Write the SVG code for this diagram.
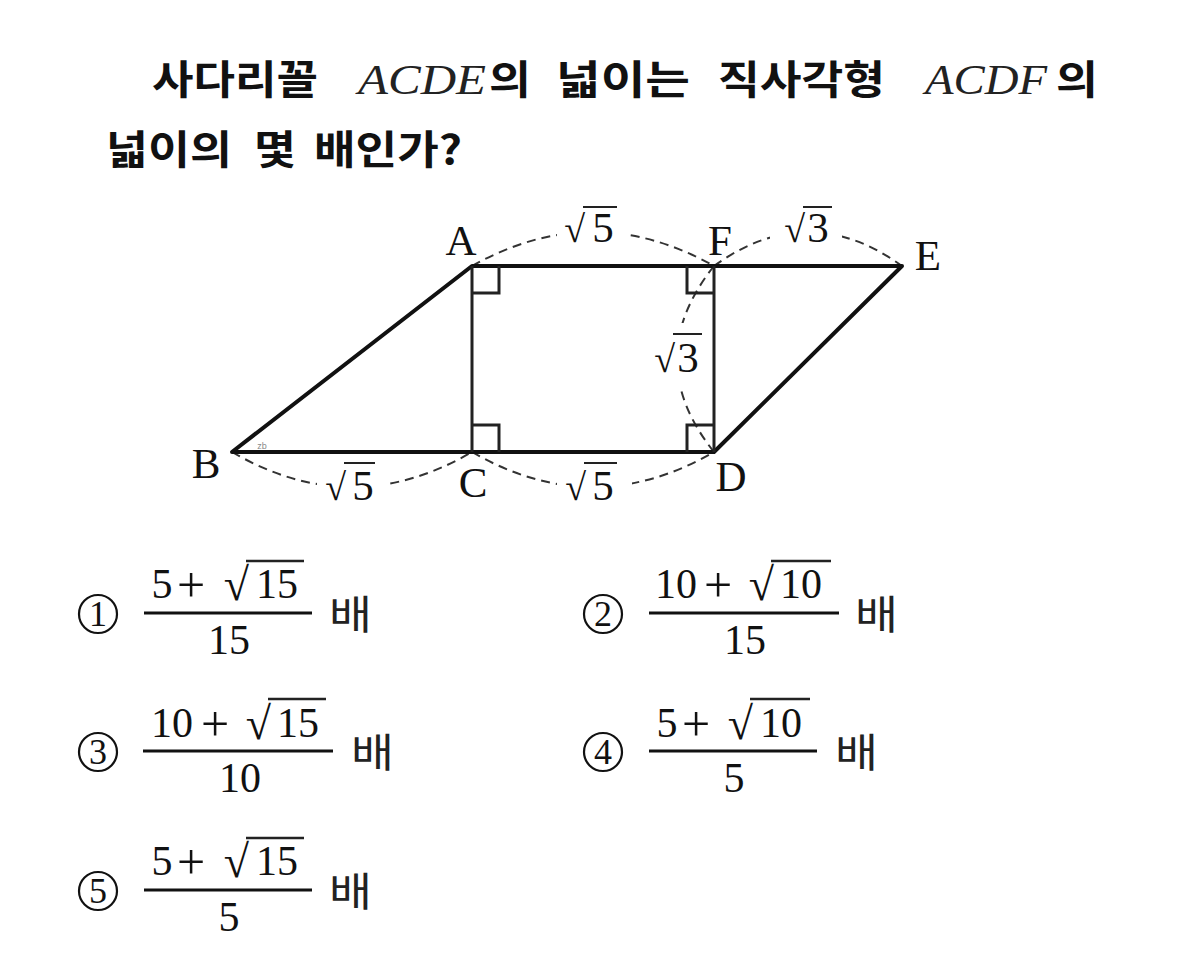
<svg xmlns="http://www.w3.org/2000/svg" width="1183" height="954" viewBox="0 0 1183 954">
<style>
.q{font-family:"Noto Sans CJK KR","Noto Sans",sans-serif;font-weight:700;font-size:40px;fill:#111}
.m{font-family:"Liberation Serif","Times New Roman",serif;fill:#111}
.i{font-size:43px;font-style:italic;fill:#222}
.l{font-size:43px;text-anchor:middle}
.d{font-size:43px;text-anchor:middle}
.n{font-size:42px;text-anchor:middle}
.p{font-size:50px;text-anchor:middle}
.s{font-size:46px;text-anchor:end}
.t{font-size:38px;text-anchor:end}
.o{font-size:36px;text-anchor:middle}
.h{font-family:"Noto Sans CJK KR",sans-serif;font-size:40px;fill:#222}
.thick{stroke:#111;stroke-width:4;fill:none;stroke-linecap:round;stroke-linejoin:round}
.thin{stroke:#222;stroke-width:3;fill:none}
.dash{stroke:#333;stroke-width:2;fill:none;stroke-dasharray:9 6}
.bar{stroke:#111;stroke-width:3;fill:none}
.ov{stroke:#222;stroke-width:2;fill:none}
.ovb{stroke:#222;stroke-width:2.6;fill:none}
.cir{stroke:#111;stroke-width:2.2;fill:none}
.w{fill:#fff}
</style>
<rect width="1183" height="954" fill="#fff"/>
<g id="question">
<text class="q" x="152" y="94" textLength="166" lengthAdjust="spacingAndGlyphs">사다리꼴</text>
<text class="m i" x="358" y="94" textLength="128" lengthAdjust="spacingAndGlyphs">ACDE</text>
<text class="q" x="489" y="94" textLength="42" lengthAdjust="spacingAndGlyphs">의</text>
<text class="q" x="556" y="94" textLength="134" lengthAdjust="spacingAndGlyphs">넓이는</text>
<text class="q" x="718" y="94" textLength="167" lengthAdjust="spacingAndGlyphs">직사각형</text>
<text class="m i" x="925" y="94" textLength="122" lengthAdjust="spacingAndGlyphs">ACDF</text>
<text class="q" x="1056" y="94" textLength="42" lengthAdjust="spacingAndGlyphs">의</text>
<text class="q" x="106" y="164" textLength="126" lengthAdjust="spacingAndGlyphs">넓이의</text>
<text class="q" x="254" y="164" textLength="42" lengthAdjust="spacingAndGlyphs">몇</text>
<text class="q" x="314" y="164" textLength="148" lengthAdjust="spacingAndGlyphs">배인가?</text>
</g>
<g id="connectors">
<path class="dash" d="M472,266Q593,198 714,266"/>
<path class="dash" d="M714,266Q808,198 902,266"/>
<path class="dash" d="M232,452Q352,522 472,452"/>
<path class="dash" d="M472,452Q593,522 714,452"/>
<path class="dash" d="M714,266Q640,359 714,452"/>
<path class="thick" d="M232,452L472,266H902L714,452Z"/>
<path class="thin" d="M472,266V452M714,266V452"/>
<path class="thin" d="M472,293H499V266M472,425H499V452M714,293H687V266M714,425H687V452"/>
</g>
<g id="node-A"><text class="m l" x="461" y="255">A</text></g>
<g id="node-B"><text class="m l" x="206" y="478">B</text><text x="262" y="449" font-family="Liberation Sans,sans-serif" font-size="9" fill="#888" text-anchor="middle">zb</text></g>
<g id="node-C"><text class="m l" x="473" y="497">C</text></g>
<g id="node-D"><text class="m l" x="731" y="491">D</text></g>
<g id="node-E"><text class="m l" x="928" y="270">E</text></g>
<g id="node-F"><text class="m l" x="720" y="255">F</text></g>
<g id="label-af"><rect class="w" x="557" y="205" width="73" height="45"/><text class="m t" x="585" y="242">√</text><path class="ov" d="M583,207H617"/><text class="m d" x="603" y="242">5</text></g>
<g id="label-fe"><rect class="w" x="770" y="205" width="72" height="45"/><text class="m t" x="805" y="242">√</text><path class="ov" d="M803,207H832"/><text class="m d" x="818" y="242">3</text></g>
<g id="label-fd"><rect class="w" x="645" y="323" width="55" height="64"/><text class="m t" x="675" y="372">√</text><path class="ov" d="M673,334H702"/><text class="m d" x="688" y="372">3</text></g>
<g id="label-bc"><rect class="w" x="317" y="462" width="73" height="45"/><text class="m t" x="346" y="500">√</text><path class="ov" d="M344,463H375"/><text class="m d" x="363" y="500">5</text></g>
<g id="label-cd"><rect class="w" x="557" y="462" width="75" height="45"/><text class="m t" x="586" y="500">√</text><path class="ov" d="M584,463H617"/><text class="m d" x="603" y="500">5</text></g>
<g id="choice-1">
<circle class="cir" cx="98" cy="614" r="19"/><text class="m o" x="98" y="626">1</text>
<text class="m n" x="162" y="598">5</text><text class="m p" x="191" y="602">+</text><text class="m s" x="249" y="600">√</text><path class="ovb" d="M246,561H304"/><text class="m n" x="277" y="598">15</text>
<path class="bar" d="M144,613H312"/>
<text class="m n" x="229" y="654">15</text>
<text class="h" x="329" y="629" textLength="43" lengthAdjust="spacingAndGlyphs">배</text>
</g>
<g id="choice-2">
<circle class="cir" cx="603" cy="614" r="19"/><text class="m o" x="603" y="626">2</text>
<text class="m n" x="676" y="598">10</text><text class="m p" x="718" y="602">+</text><text class="m s" x="774" y="600">√</text><path class="ovb" d="M771,561H831"/><text class="m n" x="801" y="598">10</text>
<path class="bar" d="M649,613H839"/>
<text class="m n" x="745" y="654">15</text>
<text class="h" x="855" y="629" textLength="43" lengthAdjust="spacingAndGlyphs">배</text>
</g>
<g id="choice-3">
<circle class="cir" cx="98" cy="752" r="19"/><text class="m o" x="98" y="764">3</text>
<text class="m n" x="172" y="737">10</text><text class="m p" x="215" y="741">+</text><text class="m s" x="271" y="739">√</text><path class="ovb" d="M268,699H326"/><text class="m n" x="298" y="737">15</text>
<path class="bar" d="M143,751H333"/>
<text class="m n" x="240" y="792">10</text>
<text class="h" x="351" y="767" textLength="43" lengthAdjust="spacingAndGlyphs">배</text>
</g>
<g id="choice-4">
<circle class="cir" cx="603" cy="752" r="19"/><text class="m o" x="603" y="764">4</text>
<text class="m n" x="667" y="737">5</text><text class="m p" x="696" y="741">+</text><text class="m s" x="753" y="739">√</text><path class="ovb" d="M750,699H810"/><text class="m n" x="781" y="737">10</text>
<path class="bar" d="M649,751H817"/>
<text class="m n" x="734" y="792">5</text>
<text class="h" x="835" y="767" textLength="43" lengthAdjust="spacingAndGlyphs">배</text>
</g>
<g id="choice-5">
<circle class="cir" cx="98" cy="891" r="19"/><text class="m o" x="98" y="903">5</text>
<text class="m n" x="162" y="875">5</text><text class="m p" x="191" y="879">+</text><text class="m s" x="249" y="877">√</text><path class="ovb" d="M246,838H304"/><text class="m n" x="277" y="875">15</text>
<path class="bar" d="M144,890H312"/>
<text class="m n" x="229" y="931">5</text>
<text class="h" x="329" y="906" textLength="43" lengthAdjust="spacingAndGlyphs">배</text>
</g>
</svg>
